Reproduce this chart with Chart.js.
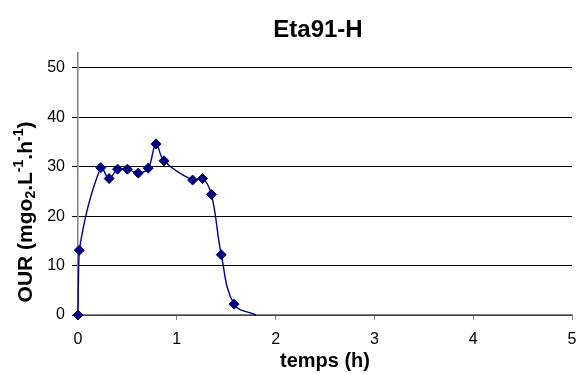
<!DOCTYPE html>
<html>
<head>
<meta charset="utf-8">
<script src="https://cdn.jsdelivr.net/npm/chart.js@4/dist/chart.umd.min.js"></script>
<style>
  html, body { margin: 0; padding: 0; background: #fff; }
  #wrap { width: 578px; height: 374px; }
</style>
</head>
<body>
<div id="wrap"><canvas id="c" width="578" height="374"></canvas></div>
<script>
// Oxygen uptake rate over time, run Eta91-H
const timeHours = [0, 0.013, 0.23, 0.315, 0.40, 0.50, 0.61, 0.71, 0.79, 0.87, 1.16, 1.26, 1.35, 1.45, 1.58, 1.80];
const ourValues = [0, 13.1, 29.8, 27.6, 29.5, 29.5, 28.7, 29.7, 34.6, 31.2, 27.3, 27.6, 24.4, 12.2, 2.2, 0];
const markerShown = [1, 1, 1, 1, 1, 1, 1, 1, 1, 1, 1, 1, 1, 1, 1, 0];
const xTicks = [0, 1, 2, 3, 4, 5];
const yTicks = [0, 10, 20, 30, 40, 50];
const chartTitle = 'Eta91-H';
const xTitle = 'temps (h)';

const FONT = '"Liberation Sans", Arial, sans-serif';
const points = timeHours.map((t, i) => ({ x: t, y: ourValues[i] }));

// Chart title, x-axis title and rotated y-axis title with sub/superscripts
const labelsPlugin = {
  id: 'labels',
  afterDraw(chart) {
    const ctx = chart.ctx;
    const area = chart.chartArea;
    ctx.save();
    ctx.fillStyle = '#000';
    ctx.textAlign = 'center';
    ctx.textBaseline = 'alphabetic';
    ctx.font = 'bold 24px ' + FONT;
    ctx.fillText(chartTitle, 318, 37);

    ctx.font = 'bold 20px ' + FONT;
    ctx.fillText(xTitle, (area.left + area.right) / 2, 367);

    // OUR (mg o2 . L-1 . h-1)
    const parts = [
      { t: 'OUR (mgo', s: 0 },
      { t: '2', s: -1 },
      { t: '.L', s: 0 },
      { t: '-1', s: 1 },
      { t: '.h', s: 0 },
      { t: '-1', s: 1 },
      { t: ')', s: 0 }
    ];
    const big = 'bold 21px ' + FONT;
    const small = 'bold 14px ' + FONT;
    let total = 0;
    parts.forEach(p => { ctx.font = p.s ? small : big; p.w = ctx.measureText(p.t).width; total += p.w; });
    ctx.translate(31.5, 212);
    ctx.rotate(-Math.PI / 2);
    ctx.textAlign = 'left';
    let x = -total / 2;
    parts.forEach(p => {
      ctx.font = p.s ? small : big;
      const dy = p.s === 1 ? -9 : (p.s === -1 ? 3 : 0);
      ctx.fillText(p.t, x, dy);
      x += p.w;
    });
    ctx.restore();
  }
};

new Chart(document.getElementById('c'), {
  type: 'line',
  data: {
    datasets: [{
      data: points,
      borderColor: '#000080',
      backgroundColor: '#000080',
      borderWidth: 1.4,
      tension: 0.4,
      clip: false,
      pointStyle: 'rectRot',
      pointRadius: markerShown.map(m => m ? 5 : 0),
      pointBorderWidth: 1,
      pointHoverRadius: 5,
      fill: false
    }]
  },
  options: {
    responsive: false,
    animation: false,
    layout: { padding: { top: 53, right: 5.5, left: 0, bottom: 0 } },
    plugins: {
      legend: { display: false },
      tooltip: { enabled: false }
    },
    scales: {
      x: {
        type: 'linear',
        min: 0, max: 5,
        afterBuildTicks(scale) { scale.ticks = xTicks.map(v => ({ value: v })); },
        afterFit(scale) {
          scale.height = 59;
          scale.paddingLeft = 0;
          scale.paddingRight = 0;
        },
        grid: { drawOnChartArea: false, drawTicks: true, tickLength: 5, color: '#808080', lineWidth: 1 },
        border: { color: '#808080', width: 1.5 },
        ticks: { color: '#000', font: { family: FONT, size: 16 }, padding: 10, maxRotation: 0 }
      },
      y: {
        type: 'linear',
        min: 0, max: 53,
        afterBuildTicks(scale) { scale.ticks = yTicks.map(v => ({ value: v })); },
        afterFit(scale) {
          scale.width = 78;
          scale.paddingTop = 0;
          scale.paddingBottom = 0;
        },
        grid: { color: '#000', lineWidth: 1, drawTicks: true, tickLength: 6 },
        border: { color: '#808080', width: 1.5 },
        ticks: { color: '#000', font: { family: FONT, size: 16 }, padding: 7 }
      }
    }
  },
  plugins: [labelsPlugin]
});
</script>
</body>
</html>
